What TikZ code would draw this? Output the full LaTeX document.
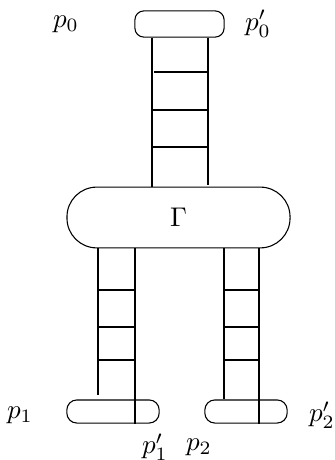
\documentclass[tikz,border=0pt]{standalone}
\begin{document}
\begin{tikzpicture}[x=0.13mm,y=-0.13mm,
  blob/.style={draw,rounded corners=3.3pt,inner sep=0pt},
  lbl/.style={inner sep=0pt}]
\useasboundingbox (0,0) rectangle (334,460);

% blobs
\node[blob,minimum width=11.6mm,minimum height=3.4mm] (top) at (179.5,24) {};
\node[blob,rounded corners=11pt,minimum width=29mm,minimum height=7.9mm] (G) at (178.5,217.5) {$\Gamma$};
\node[blob,rounded corners=3.7pt,minimum width=12mm,minimum height=3mm] (bl) at (113,411.5) {};
\node[blob,rounded corners=3.7pt,minimum width=10.7mm,minimum height=3mm] (br) at (246,411.5) {};

% top ladder
\draw (152,0 |- top.south) -- (152,0 |- G.north);
\draw (208,0 |- top.south) -- (208,185);
\draw (154,72) -- (208,72);
\draw (152,110) -- (208,110);
\draw (152,147) -- (208,147);

% left ladder
\draw (98,0 |- G.south) -- (98,395);
\draw (135,0 |- G.south) -- (135,0 |- bl.south);
\foreach \y in {290,327,360}
  \draw (98,\y) -- (135,\y);

% right ladder
\draw (224,0 |- G.south) -- (224,0 |- br.north);
\draw (259,0 |- G.south) -- (259,0 |- br.south);
\foreach \y in {290,327,360}
  \draw (224,\y) -- (259,\y);

% labels
\node[lbl] (p0) at (66,24) {$p_0$};
\node[lbl] (p0p) at (258,24) {$p'_0$};
\node[lbl] (p1) at (20,415) {$p_1$};
\node[lbl] (p2p) at (322,415) {$p'_2$};
\node[lbl] (p1p) at (155,447) {$p'_1$};
\node[lbl] (p2) at (199,447) {$p_2$};
\end{tikzpicture}
\end{document}
